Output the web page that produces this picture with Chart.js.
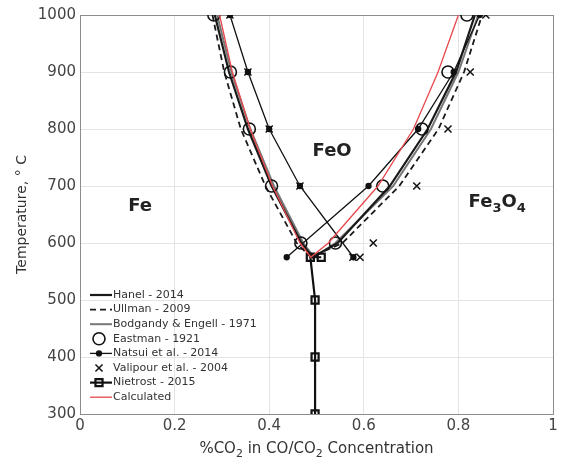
<!DOCTYPE html>
<html lang="en">
<head>
<meta charset="UTF-8">
<title>Fe-O Phase Diagram</title>
<script src="https://cdn.jsdelivr.net/npm/chart.js"></script>
<style>
  body { margin: 0; background: #fff; }
  canvas { display: block; }
</style>
</head>
<body>
<canvas id="phaseChart" width="561" height="465"></canvas>
<script>
// axis ticks
const xTicks = [0, 0.2, 0.4, 0.6, 0.8, 1];
const tTicks = [300, 400, 500, 600, 700, 800, 900, 1000];

// V-shaped boundaries: Fe/FeO branch down, then FeO/Fe3O4 branch up
const vTemps   = [1000, 900, 800, 700, 600, 575, 600, 700, 800, 900, 1000];
const hanelX   = [0.285, 0.315, 0.355, 0.405, 0.468, 0.492, 0.545, 0.655, 0.735, 0.795, 0.835];
const ullmanX  = [0.280, 0.305, 0.340, 0.392, 0.458, 0.488, 0.555, 0.675, 0.758, 0.812, 0.850];
const bodgX    = [0.290, 0.320, 0.360, 0.410, 0.472, 0.495, 0.540, 0.662, 0.742, 0.800, 0.842];
const calcX    = [0.295, 0.322, 0.360, 0.407, 0.465, 0.488, 0.525, 0.630, 0.705, 0.757, 0.800];

// Eastman 1921 (markers only)
const eastmanT = [1000, 900, 800, 700, 600, 600, 700, 800, 900, 1000];
const eastmanX = [0.283, 0.318, 0.358, 0.405, 0.467, 0.540, 0.640, 0.723, 0.778, 0.818];

// Natsui 2014, two crossing branches
const natsuiAT = [1000, 900, 800, 700, 575];
const natsuiAX = [0.317, 0.355, 0.400, 0.465, 0.578];
const natsuiBT = [575, 700, 800, 900, 1000];
const natsuiBX = [0.437, 0.610, 0.715, 0.790, 0.845];

// Valipour 2004 (markers only)
const valipourT = [1000, 900, 800, 700, 575, 575, 600, 700, 800, 900, 1000];
const valipourX = [0.317, 0.355, 0.400, 0.465, 0.577, 0.592, 0.620, 0.712, 0.778, 0.825, 0.858];

// Nietrost 2015, Fe/Fe3O4 boundary
const nietrostT = [300, 400, 500, 575, 575];
const nietrostX = [0.497, 0.497, 0.497, 0.487, 0.510];

function pts(xs, ts) {
    return xs.map((x, i) => ({ x: x, y: ts[i] }));
}

const datasets = [
    { label: 'Calculated', data: pts(calcX, vTemps), showLine: true, borderColor: '#e8474c', borderWidth: 1.3, pointRadius: 0, order: 0 },
    { label: 'Hanel - 2014', data: pts(hanelX, vTemps), showLine: true, borderColor: '#1a1a1a', borderWidth: 2.2, pointRadius: 0, order: 2 },
    { label: 'Ullman - 2009', data: pts(ullmanX, vTemps), showLine: true, borderColor: '#1a1a1a', borderWidth: 1.8, borderDash: [6, 4], pointRadius: 0, order: 2 },
    { label: 'Bodgandy & Engell - 1971', data: pts(bodgX, vTemps), showLine: true, borderColor: '#777', borderWidth: 2, pointRadius: 0, order: 3 },
    { label: 'Eastman - 1921', data: pts(eastmanX, eastmanT), showLine: false, borderColor: '#111', backgroundColor: 'rgba(0,0,0,0)', borderWidth: 1.6, pointStyle: 'circle', pointRadius: 6, order: 1 },
    { label: 'Natsui et al. - 2014', data: pts(natsuiAX, natsuiAT), showLine: true, borderColor: '#111', backgroundColor: '#111', borderWidth: 1.3, pointStyle: 'circle', pointRadius: 2.5, order: 1 },
    { label: '', data: pts(natsuiBX, natsuiBT), showLine: true, borderColor: '#111', backgroundColor: '#111', borderWidth: 1.3, pointStyle: 'circle', pointRadius: 2.5, order: 1 },
    { label: 'Valipour et al. - 2004', data: pts(valipourX, valipourT), showLine: false, borderColor: '#111', borderWidth: 1.5, pointStyle: 'crossRot', pointRadius: 5, order: 1 },
    { label: 'Nietrost - 2015', data: pts(nietrostX, nietrostT), showLine: true, borderColor: '#111', backgroundColor: 'rgba(0,0,0,0)', borderWidth: 2.2, pointStyle: 'rect', pointRadius: 5, order: 1 }
];

const legendOrder = ['Hanel - 2014', 'Ullman - 2009', 'Bodgandy & Engell - 1971', 'Eastman - 1921',
    'Natsui et al. - 2014', 'Valipour et al. - 2004', 'Nietrost - 2015', 'Calculated'];

// text with subscripts: parts = [[text, isSub], ...]
function subText(ctx, parts, x, y, size, weight) {
    const big = weight + ' ' + size + 'px "DejaVu Sans"';
    const small = weight + ' ' + Math.round(size * 0.72) + 'px "DejaVu Sans"';
    let w = 0;
    parts.forEach(p => { ctx.font = p[1] ? small : big; w += ctx.measureText(p[0]).width; });
    let cx = x - w / 2;
    ctx.textAlign = 'left';
    ctx.textBaseline = 'middle';
    parts.forEach(p => {
        ctx.font = p[1] ? small : big;
        ctx.fillText(p[0], cx, p[1] ? y + size * 0.35 : y);
        cx += ctx.measureText(p[0]).width;
    });
}

const decorPlugin = {
    id: 'decor',
    beforeDatasetsDraw(chart) {
        const { ctx, chartArea: a } = chart;
        ctx.save();
        ctx.strokeStyle = '#8c8c8c';
        ctx.lineWidth = 1;
        ctx.strokeRect(a.left + 0.5, a.top + 0.5, a.right - a.left, a.bottom - a.top);
        ctx.restore();
    },
    afterDraw(chart) {
        const { ctx } = chart;
        const sx = chart.scales.x, sy = chart.scales.y;
        ctx.save();
        ctx.fillStyle = '#222';
        // phase region labels
        subText(ctx, [['Fe', false]], sx.getPixelForValue(0.127), sy.getPixelForValue(665), 18, 'bold');
        subText(ctx, [['FeO', false]], sx.getPixelForValue(0.533), sy.getPixelForValue(761), 18, 'bold');
        subText(ctx, [['Fe', false], ['3', true], ['O', false], ['4', true]], sx.getPixelForValue(0.882), sy.getPixelForValue(672), 18, 'bold');

        // axis titles
        ctx.fillStyle = '#333';
        const a = chart.chartArea;
        subText(ctx, [['%CO', false], ['2', true], [' in CO/CO', false], ['2', true], [' Concentration', false]],
            (a.left + a.right) / 2, 449, 15, 'normal');
        ctx.save();
        ctx.translate(22, (a.top + a.bottom) / 2);
        ctx.rotate(-Math.PI / 2);
        subText(ctx, [['Temperature, \u00b0 C', false]], 0, 0, 14, 'normal');
        ctx.restore();

        // legend
        let ly = 295;
        legendOrder.forEach(name => {
            const ds = datasets.find(d => d.label === name);
            ctx.save();
            if (ds.showLine) {
                ctx.strokeStyle = ds.borderColor;
                ctx.lineWidth = ds.borderWidth;
                ctx.setLineDash(ds.borderDash || []);
                ctx.beginPath();
                ctx.moveTo(90, ly);
                ctx.lineTo(112, ly);
                ctx.stroke();
                ctx.setLineDash([]);
            }
            if (ds.pointRadius > 0) {
                ctx.strokeStyle = ds.borderColor;
                ctx.fillStyle = ds.backgroundColor || 'rgba(0,0,0,0)';
                ctx.lineWidth = ds.borderWidth;
                Chart.helpers.drawPoint(ctx, { pointStyle: ds.pointStyle, radius: ds.pointRadius, borderWidth: ds.borderWidth, rotation: 0 }, 99, ly);
            }
            ctx.restore();
            ctx.fillStyle = '#333';
            ctx.font = '11px "DejaVu Sans"';
            ctx.textAlign = 'left';
            ctx.textBaseline = 'middle';
            ctx.fillText(name, 113, ly);
            ly += 14.6;
        });
        ctx.restore();
    }
};

const ctx = document.getElementById('phaseChart').getContext('2d');
new Chart(ctx, {
    type: 'scatter',
    data: { datasets: datasets },
    options: {
        responsive: false,
        animation: false,
        layout: { padding: { top: 15, right: 8, left: 0, bottom: 0 } },
        plugins: { legend: { display: false }, tooltip: { enabled: false } },
        scales: {
            x: {
                type: 'linear', min: 0, max: 1,
                afterBuildTicks: s => { s.ticks = xTicks.map(v => ({ value: v })); },
                afterFit: s => { s.height = 51; },
                ticks: { color: '#444', font: { family: 'DejaVu Sans', size: 15 }, padding: 3, maxRotation: 0,
                    callback: v => String(v) },
                grid: { color: '#e4e4e4', drawTicks: false },
                border: { display: false }
            },
            y: {
                type: 'linear', min: 300, max: 1000,
                afterBuildTicks: s => { s.ticks = tTicks.map(v => ({ value: v })); },
                afterFit: s => { s.width = 80; },
                ticks: { color: '#444', font: { family: 'DejaVu Sans', size: 15 }, padding: 4,
                    callback: v => String(v) },
                grid: { color: '#e4e4e4', drawTicks: false },
                border: { display: false }
            }
        }
    },
    plugins: [decorPlugin]
});
</script>
</body>
</html>
